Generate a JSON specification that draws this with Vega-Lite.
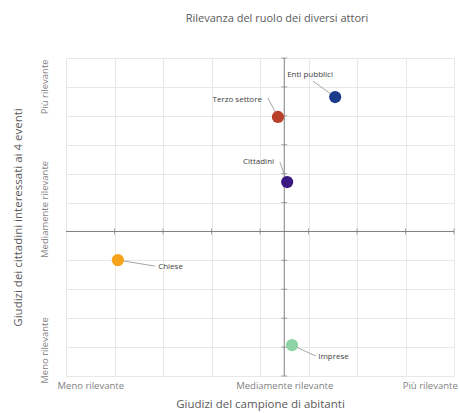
{
  "$schema": "https://vega.github.io/schema/vega-lite/v6.json",
  "width": 388,
  "height": 318,
  "autosize": "none",
  "padding": {"left": 66, "top": 58, "right": 6, "bottom": 37},
  "background": "white",
  "config": {"view": {"stroke": null}, "font": "Open Sans"},
  "title": {
    "text": "Rilevanza del ruolo dei diversi attori",
    "fontSize": 11,
    "fontWeight": "normal",
    "color": "#595959",
    "anchor": "middle",
    "frame": "group",
    "dx": 17,
    "offset": 34
  },
  "data": {"name": "attori"},
  "datasets": {
    "attori": [
      {"attore": "Enti pubblici", "campione": 1.05, "cittadini": 4.65, "etichetta_x": 0.06, "etichetta_y": 5.41, "lato": "sinistra", "guida_x": 0.59, "guida_y": 5.2},
      {"attore": "Terzo settore", "campione": -0.13, "cittadini": 3.96, "etichetta_x": -0.46, "etichetta_y": 4.55, "lato": "destra", "guida_x": -0.34, "guida_y": 4.62},
      {"attore": "Cittadini", "campione": 0.06, "cittadini": 1.71, "etichetta_x": -0.21, "etichetta_y": 2.4, "lato": "destra", "guida_x": -0.09, "guida_y": 2.4},
      {"attore": "Chiese", "campione": -3.43, "cittadini": -0.99, "etichetta_x": -2.6, "etichetta_y": -1.23, "lato": "sinistra", "guida_x": -2.66, "guida_y": -1.2},
      {"attore": "Imprese", "campione": 0.16, "cittadini": -3.93, "etichetta_x": 0.7, "etichetta_y": -4.35, "lato": "sinistra", "guida_x": 0.65, "guida_y": -4.31}
    ],
    "tacche_x": [{"campione": -3.5, "cittadini": 0}, {"campione": -2.5, "cittadini": 0}, {"campione": -1.5, "cittadini": 0}, {"campione": -0.5, "cittadini": 0}, {"campione": 0.5, "cittadini": 0}, {"campione": 1.5, "cittadini": 0}, {"campione": 2.5, "cittadini": 0}, {"campione": 3.5, "cittadini": 0}],
    "tacche_y": [{"campione": 0, "cittadini": -5}, {"campione": 0, "cittadini": -4}, {"campione": 0, "cittadini": -3}, {"campione": 0, "cittadini": -2}, {"campione": 0, "cittadini": -1}, {"campione": 0, "cittadini": 1}, {"campione": 0, "cittadini": 2}, {"campione": 0, "cittadini": 3}, {"campione": 0, "cittadini": 4}, {"campione": 0, "cittadini": 5}, {"campione": 0, "cittadini": 6}],
    "assi": [{"origine": 0}]
  },
  "encoding": {
    "x": {
      "field": "campione",
      "type": "quantitative",
      "scale": {"domain": [-4.5, 3.5], "nice": false, "zero": false},
      "axis": {
        "orient": "bottom",
        "title": "Giudizi del campione di abitanti",
        "values": [-4.5, -3.5, -2.5, -1.5, -0.5, 0.5, 1.5, 2.5, 3.5, -4, 0, 3],
        "labelExpr": "datum.value == -4 ? 'Meno rilevante' : datum.value == 0 ? 'Mediamente rilevante' : datum.value == 3 ? 'Più rilevante' : ''",
        "labelOverlap": false,
        "labelBound": false,
        "labelFlush": false,
        "domain": false,
        "ticks": false,
        "labelPadding": 4,
        "labelFontSize": 9.5,
        "labelColor": "#7f7f7f",
        "gridColor": "#e8e8e8",
        "gridOpacity": {"condition": {"test": "datum.value % 1 != 0", "value": 1}, "value": 0},
        "titleFontSize": 11.5,
        "titleFontWeight": "normal",
        "titleColor": "#595959",
        "titlePadding": 9
      }
    },
    "y": {
      "field": "cittadini",
      "type": "quantitative",
      "scale": {"domain": [-5, 6], "nice": false, "zero": false},
      "axis": {
        "orient": "left",
        "title": "Giudizi dei cittadini interessati ai 4 eventi",
        "values": [-5, -4, -3, -2, -1, 0, 1, 2, 3, 4, 5, 6, 5.02, 0.78, -4.1],
        "labelExpr": "datum.value == 5.02 ? 'Più rilevante' : datum.value == 0.78 ? 'Mediamente rilevante' : datum.value == -4.1 ? 'Meno rilevante' : ''",
        "labelOverlap": false,
        "labelBound": false,
        "labelFlush": false,
        "labelAngle": 270,
        "labelAlign": "center",
        "labelBaseline": "bottom",
        "domain": false,
        "ticks": false,
        "labelPadding": 17,
        "labelFontSize": 9.5,
        "labelColor": "#7f7f7f",
        "gridColor": "#e8e8e8",
        "gridOpacity": {"condition": {"test": "datum.value % 1 == 0", "value": 1}, "value": 0},
        "titleFontSize": 11.5,
        "titleFontWeight": "normal",
        "titleColor": "#595959",
        "titlePadding": 16
      }
    }
  },
  "layer": [
    {
      "data": {"name": "assi"},
      "mark": {"type": "rule", "color": "#7f7f7f", "strokeWidth": 1},
      "encoding": {"x": {"field": "origine", "type": "quantitative"}, "y": null}
    },
    {
      "data": {"name": "assi"},
      "mark": {"type": "rule", "color": "#7f7f7f", "strokeWidth": 1},
      "encoding": {"y": {"field": "origine", "type": "quantitative"}, "x": null}
    },
    {
      "data": {"name": "tacche_x"},
      "mark": {"type": "tick", "orient": "vertical", "color": "#7f7f7f", "size": 6, "thickness": 1}
    },
    {
      "data": {"name": "tacche_y"},
      "mark": {"type": "tick", "orient": "horizontal", "color": "#7f7f7f", "size": 6, "thickness": 1}
    },
    {
      "mark": {"type": "rule", "color": "#a6a6a6", "strokeWidth": 1},
      "encoding": {
        "x2": {"field": "guida_x"},
        "y2": {"field": "guida_y"}
      }
    },
    {
      "mark": {"type": "circle", "size": 150, "opacity": 1},
      "encoding": {
        "color": {
          "field": "attore",
          "type": "nominal",
          "legend": null,
          "scale": {
            "domain": ["Enti pubblici", "Terzo settore", "Cittadini", "Chiese", "Imprese"],
            "range": ["#1a3a8a", "#b8402a", "#3a1a80", "#f7a21b", "#8ed3a5"]
          }
        }
      }
    },
    {
      "transform": [{"filter": "datum.lato == 'sinistra'"}],
      "mark": {"type": "text", "align": "left", "baseline": "middle", "fontSize": 8, "color": "#404040"},
      "encoding": {
        "x": {"field": "etichetta_x", "type": "quantitative"},
        "y": {"field": "etichetta_y", "type": "quantitative"},
        "text": {"field": "attore"}
      }
    },
    {
      "transform": [{"filter": "datum.lato == 'destra'"}],
      "mark": {"type": "text", "align": "right", "baseline": "middle", "fontSize": 8, "color": "#404040"},
      "encoding": {
        "x": {"field": "etichetta_x", "type": "quantitative"},
        "y": {"field": "etichetta_y", "type": "quantitative"},
        "text": {"field": "attore"}
      }
    }
  ]
}
